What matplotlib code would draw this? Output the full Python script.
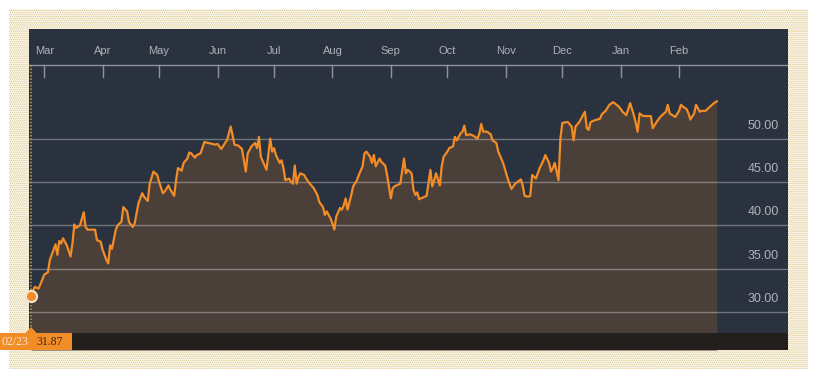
import numpy as np
import matplotlib
matplotlib.use("Agg")
import matplotlib.pyplot as plt
import matplotlib.dates as mdates
from matplotlib.patches import Rectangle, Polygon

# ---------------- data ----------------
start_date = "2016-02-23"
day_offsets = [
    0, 2, 4, 5, 7, 9, 10, 12, 13, 14,
    15, 16, 17, 19, 21, 22, 23, 24, 26, 28,
    29, 30, 34, 35, 37, 38, 40, 41, 42, 43,
    45, 46, 48, 49, 51, 52, 54, 55, 57, 59,
    60, 62, 63, 65, 67, 68, 70, 71, 73, 74,
    76, 77, 78, 80, 81, 83, 84, 85, 87, 88,
    90, 92, 94, 98, 99, 101, 103, 104, 106, 107,
    108, 110, 112, 114, 115, 117, 119, 120, 121, 122,
    124, 125, 127, 128, 129, 130, 132, 133, 134, 135,
    137, 138, 139, 140, 141, 142, 143, 145, 146, 148,
    150, 152, 153, 155, 156, 157, 159, 160, 161, 162,
    164, 165, 166, 167, 168, 170, 171, 173, 174, 176,
    177, 178, 180, 181, 182, 183, 185, 186, 188, 189,
    191, 192, 193, 196, 198, 199, 200, 202, 203, 204,
    205, 206, 208, 210, 212, 213, 214, 215, 217, 218,
    219, 221, 222, 224, 225, 226, 228, 229, 230, 231,
    233, 235, 237, 238, 239, 240, 242, 244, 245, 247,
    248, 250, 251, 253, 255, 257, 260, 261, 262, 264,
    265, 266, 268, 270, 272, 273, 275, 276, 277, 278,
    280, 281, 282, 284, 285, 287, 288, 289, 291, 293,
    294, 295, 296, 297, 299, 302, 303, 305, 307, 309,
    312, 314, 316, 318, 320, 321, 322, 323, 325, 329,
    330, 332, 334, 337, 338, 339, 342, 344, 345, 346,
    348, 349, 350, 352, 353, 355, 356, 358, 360, 362,
    364,
]
prices = [
    31.87, 32.9, 32.7, 33.2, 34.3, 34.6, 36.0, 37.2, 37.8, 36.6,
    38.2, 37.9, 38.5, 37.7, 36.4, 37.9, 40.1, 39.7, 40.0, 41.5,
    39.8, 39.5, 39.5, 38.3, 38.1, 37.2, 36.0, 35.6, 37.7, 37.3,
    39.5, 40.0, 40.4, 42.1, 41.6, 40.4, 39.8, 40.2, 42.5, 43.7,
    43.3, 42.8, 44.8, 46.2, 45.8, 45.0, 43.7, 43.9, 44.6, 44.1,
    43.4, 45.2, 46.6, 46.3, 47.2, 47.7, 48.4, 48.3, 47.8, 48.1,
    48.3, 49.6, 49.5, 49.3, 49.4, 48.8, 49.5, 49.8, 51.4, 50.4,
    49.3, 49.2, 48.8, 46.2, 48.3, 49.1, 49.5, 48.9, 50.2, 47.9,
    46.9, 46.4, 50.0, 48.5, 48.9, 48.1, 47.2, 47.5, 46.6, 45.2,
    45.4, 45.0, 44.8, 46.9, 44.8, 45.6, 46.0, 45.8, 45.4, 44.8,
    44.3, 43.5, 42.7, 42.1, 41.2, 41.6, 40.8, 40.2, 39.5, 41.0,
    42.0, 41.8, 42.3, 43.1, 41.8, 43.5, 44.5, 45.2, 45.8, 46.8,
    48.3, 48.5, 47.9, 47.2, 48.1, 46.8, 47.7, 47.3, 46.9, 45.8,
    43.1, 44.3, 44.5, 44.8, 47.7, 46.0, 46.4, 46.0, 44.1, 43.5,
    43.8, 43.0, 43.2, 43.4, 46.4, 44.5, 45.2, 46.0, 44.6, 46.8,
    47.9, 48.5, 48.9, 49.1, 50.2, 49.8, 50.6, 50.8, 51.5, 50.4,
    50.5, 50.3, 50.0, 50.6, 51.7, 50.8, 50.8, 50.5, 49.8, 49.5,
    48.5, 47.5, 46.9, 45.4, 44.2, 44.8, 45.3, 44.6, 43.4, 43.3,
    43.4, 45.8, 45.4, 46.6, 47.5, 48.1, 47.2, 46.2, 46.6, 47.2,
    45.2, 50.0, 51.8, 51.9, 51.9, 51.4, 49.8, 51.4, 51.9, 52.7,
    53.1, 51.2, 51.0, 51.9, 52.1, 52.3, 52.8, 53.2, 53.9, 54.2,
    53.7, 53.1, 52.7, 54.1, 52.7, 51.8, 50.8, 52.9, 52.6, 52.6,
    51.2, 51.9, 52.5, 53.1, 53.9, 52.9, 52.5, 53.2, 53.9, 53.7,
    53.4, 52.9, 52.2, 52.9, 53.9, 53.1, 53.2, 53.2, 53.6, 54.0,
    54.3,
]
month_starts = ["2016-03-01", "2016-04-01", "2016-05-01", "2016-06-01",
                "2016-07-01", "2016-08-01", "2016-09-01", "2016-10-01",
                "2016-11-01", "2016-12-01", "2017-01-01", "2017-02-01"]
month_labels = ["Mar", "Apr", "May", "Jun", "Jul", "Aug", "Sep", "Oct",
                "Nov", "Dec", "Jan", "Feb"]
y_ticks = [30, 35, 40, 45, 50]
marker_date_label = "02/23"
marker_value = 31.87

# ---------------- style ----------------
NAVY = "#29323e"
FILL = "#4b4039"
ORANGE = "#f28c26"
BOTTOM = "#231f1c"
BORDER_BG = "#fcf7ea"
BORDER_DOT = "#d8c48e"
AXISLINE = "#8c939b"
LABEL = "#aeb3b9"

plt.rcParams["hatch.linewidth"] = 0.6

W, H = 819, 387
fig = plt.figure(figsize=(W / 100, H / 100), dpi=100)
fig.patch.set_facecolor("white")

# background layer (pixel coordinates)
bg = fig.add_axes([0, 0, 1, 1], zorder=0)
bg.set_xlim(0, W)
bg.set_ylim(H, 0)
bg.axis("off")
bg.add_patch(Rectangle((9, 9), 799, 360, facecolor=BORDER_BG,
                       edgecolor=BORDER_DOT, lw=0, hatch="........"))
bg.add_patch(Rectangle((29, 29), 759, 321, facecolor=NAVY, edgecolor="none"))

# scale helpers (layout)
PX_PER_UNIT = 8.67
Y30_PX = 312.0
PX_PER_DAY = 1.884
X0_PX = 31.0
x0 = mdates.date2num(np.datetime64(start_date))


def vy(py):
    return 30 + (Y30_PX - py) / PX_PER_UNIT


def vx(px):
    return x0 + (px - X0_PX) / PX_PER_DAY


ax = fig.add_axes([29 / W, (H - 350) / H, 759 / W, 321 / H], zorder=1)
ax.set_xlim(vx(29), vx(788))
ax.set_ylim(vy(350), vy(29))
ax.axis("off")

xs = x0 + np.array(day_offsets, dtype=float)
ys = np.array(prices)

ax.fill_between(xs, ys, vy(350), color=FILL, lw=0, zorder=1)
for v in y_ticks:
    ax.axhline(v, color="white", alpha=0.33, lw=1, zorder=2)
    ax.text(vx(779), v + 13 / PX_PER_UNIT, f"{v:.2f}", ha="right", va="center",
            color=LABEL, fontsize=9, family="Liberation Sans", zorder=3)
ax.plot(xs, ys, color=ORANGE, lw=1.6, zorder=4)

# header axis
ax.axhline(vy(65), color=AXISLINE, lw=1, zorder=2)
for m, lab in zip(month_starts, month_labels):
    xm = mdates.date2num(np.datetime64(m))
    ax.plot([xm, xm], [vy(65), vy(77)], color=AXISLINE, lw=1, zorder=2)
    ax.text(xm, vy(51), lab, ha="center", va="center", color=LABEL,
            fontsize=8, family="Liberation Sans")

# dotted cursor line and marker
ax.plot([x0, x0], [vy(65), vy(333)], color="#a8965a", lw=1.2,
        ls=(0, (1, 1)), zorder=3)
ax.add_patch(Rectangle((vx(29), vy(350)), vx(788) - vx(29), vy(333) - vy(350),
                       facecolor=BOTTOM, edgecolor="none", zorder=5))
ax.plot([x0], [marker_value], "o", ms=8, mfc=ORANGE, mec="#f3e3cf", mew=1.5,
        zorder=6, clip_on=False)

# foreground label box (pixel coordinates)
fg = fig.add_axes([0, 0, 1, 1], zorder=2)
fg.set_xlim(0, W)
fg.set_ylim(H, 0)
fg.axis("off")
fg.add_patch(Rectangle((0, 333), 72, 17, facecolor=ORANGE, edgecolor="none"))
fg.add_patch(Polygon([(25, 333.5), (37, 333.5), (31, 327)], closed=True,
                     facecolor=ORANGE, edgecolor="none"))
fg.text(1, 342, marker_date_label, ha="left", va="center", color="#fde7cf",
        fontsize=8.5, family="Liberation Serif")
fg.text(36, 342, f"{marker_value:.2f}", ha="left", va="center", color="#3a2a18",
        fontsize=8.5, family="Liberation Serif")

fig.savefig("out.png", dpi=100, facecolor="white")
